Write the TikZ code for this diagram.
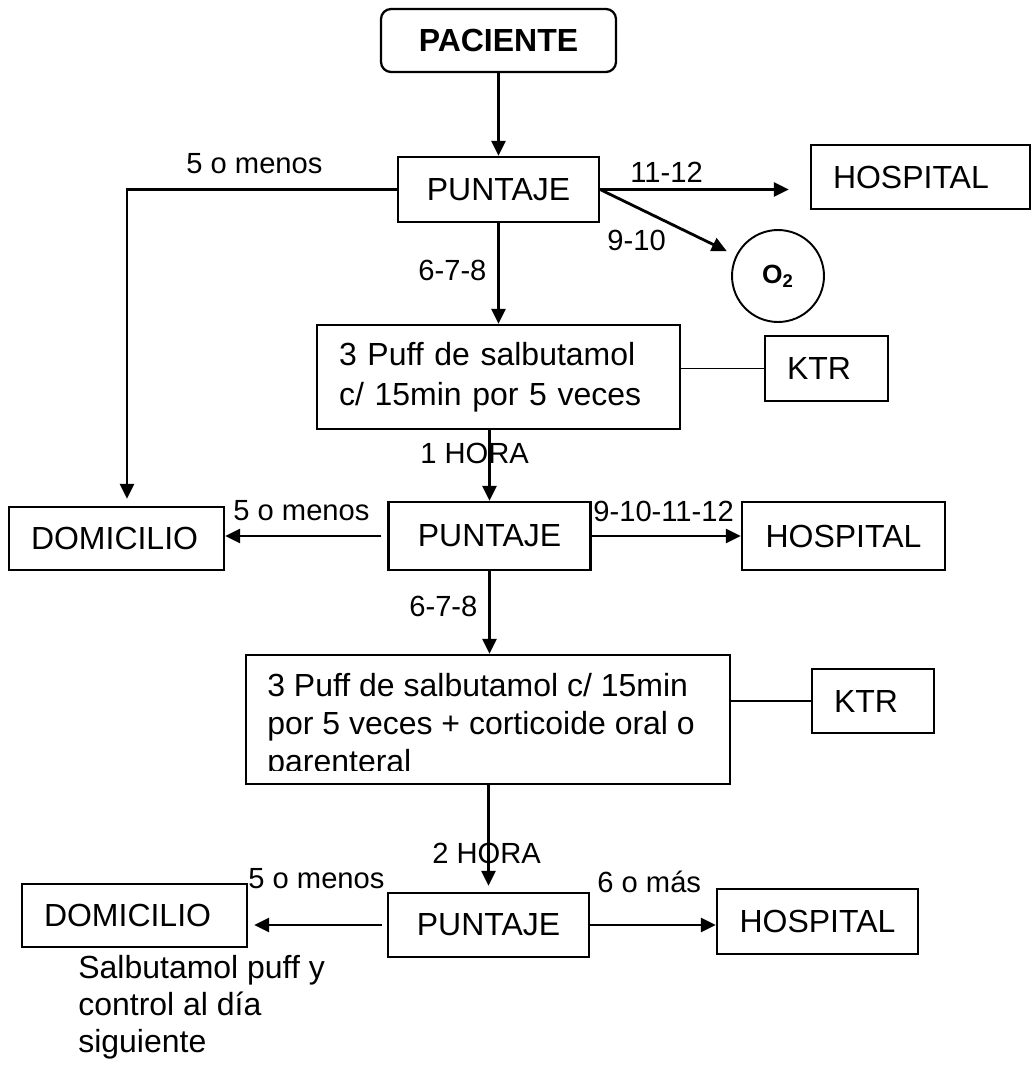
\documentclass[tikz,border=0pt]{standalone}
\usepackage{fontspec}
\setmainfont{Liberation Sans}
\usetikzlibrary{arrows.meta}
\newcommand{\txtcaja}{\fontsize{18.2pt}{22.8pt}\selectfont}
\newcommand{\txtflecha}{\fontsize{16.6pt}{20pt}\selectfont}

\begin{document}
\begin{tikzpicture}[
    x=0.02cm, y=-0.02cm,
    >={Triangle[length=0.3cm, width=0.28cm]},
    caja/.style={draw, line width=1.3pt, inner xsep=0.44cm, inner ysep=0pt, align=left, font=\txtcaja},
    cajac/.style={draw, line width=1.3pt, inner sep=0pt, font=\txtcaja, minimum height=1.3cm},
    flecha/.style={->, line width=1.6pt},
    linea/.style={line width=1.1pt},
    etiq/.style={anchor=base west, inner sep=0pt, font=\txtflecha},
]
\useasboundingbox (0,0) rectangle (1031,1065);

% === Primera evaluacion ===
\node[cajac, rounded corners=0.2cm, minimum width=4.7cm, minimum height=1.26cm, font=\txtcaja\bfseries] (paciente) at (498.5,40.5) {PACIENTE};
\node[cajac, minimum width=4.02cm] (punt1) at (498.5,189.5) {PUNTAJE};
\node[caja, text width=3.5cm, minimum height=1.28cm] (hosp1) at (920.5,177) {HOSPITAL};
\node[draw, circle, line width=1.1pt, minimum size=1.84cm, inner sep=0pt, font=\fontsize{15pt}{17pt}\selectfont\bfseries] (oxig) at (778,276) {O\textsubscript{2}};
\node[caja, text width=6.38cm, minimum height=2.08cm] (puff1) at (498.5,377) {3 Puff de salbutamol\\c/ 15min por 5 veces};
\node[caja, text width=1.58cm, minimum height=1.3cm] (ktr1) at (826.5,368.5) {KTR};

\draw[flecha] (paciente) -- (punt1);
\draw[flecha, shorten >=0.42cm] (punt1.east) -- (punt1.east -| hosp1.west);
\draw[flecha, shorten >=0.2cm] (punt1.east) -- (oxig);
\draw[flecha] (punt1) -- (puff1);
\draw[linea] (ktr1.west -| puff1.east) -- (ktr1.west);

\node[etiq] (menosA) at (186,173) {5 o menos};
\node[etiq] (pts1112) at (630,182) {11-12};
\node[etiq] (pts910) at (607,250) {9-10};
\node[etiq] (pts678A) at (418,280) {6-7-8};

% === Despues de 1 hora ===
\node[cajac, minimum width=4.04cm, minimum height=1.36cm] (punt2) at (489.5,536) {PUNTAJE};
\node[caja, text width=3.42cm, minimum height=1.26cm] (dom1) at (116.5,538.5) {DOMICILIO};
\node[cajac, minimum width=4.06cm, minimum height=1.36cm] (hosp2) at (843.5,536) {HOSPITAL};

\draw[flecha, shorten >=0.14cm] (punt1.west) -| ([xshift=0.21cm]dom1.north);
\draw[flecha] (puff1.south -| punt2.north) -- (punt2.north);
\draw[flecha, shorten <=0.12cm] (punt2.west) -- (punt2.west -| dom1.east);
\draw[flecha] (punt2) -- (hosp2);

\node[etiq] (hora1) at (420,463) {1 HORA};
\node[etiq] (menosB) at (233,520) {5 o menos};
\node[etiq] (pts912) at (593,521) {9-10-11-12};
\node[etiq] (pts678B) at (409,616) {6-7-8};

% === Segundo tratamiento ===
\node[draw, line width=1.3pt, minimum width=9.68cm, minimum height=2.58cm, inner sep=0pt] (puff2) at (488,719.5) {};
\begin{scope}
  \clip (puff2.north west) rectangle ([yshift=0.3cm]puff2.south east);
  \node[anchor=north west, inner sep=0pt, align=left, font=\fontsize{18.2pt}{21.5pt}\selectfont] (puff2txt) at (267,673)
    {3 Puff de salbutamol c/ 15min\\por 5 veces + corticoide oral o\\parenteral};
\end{scope}
\node[caja, text width=1.56cm, minimum height=1.28cm] (ktr2) at (873,701) {KTR};

\draw[flecha] (punt2.south) -- (punt2.south |- puff2.north);
\draw[linea] (ktr2.west -| puff2.east) -- (ktr2.west);

% === Despues de 2 horas ===
\node[cajac, minimum width=4.02cm, minimum height=1.28cm] (punt3) at (488.5,925) {PUNTAJE};
\node[caja, text width=3.62cm, minimum height=1.26cm] (dom2) at (134.5,915.5) {DOMICILIO};
\node[cajac, minimum width=4.02cm, minimum height=1.3cm] (hosp3) at (817.5,921.5) {HOSPITAL};

\draw[flecha, shorten >=0.12cm] (puff2.south -| punt3.north) -- (punt3.north);
\draw[flecha, shorten <=0.1cm, shorten >=0.12cm] (punt3.west) -- (punt3.west -| dom2.east);
\draw[flecha] (punt3.east) -- (punt3.east -| hosp3.west);

\node[etiq] (hora2) at (432,863) {2 HORA};
\node[etiq] (menosC) at (248,888) {5 o menos};
\node[etiq] (pts6mas) at (597,892) {6 o más};
\node[anchor=north west, inner sep=0pt, align=left, font=\fontsize{18.2pt}{21pt}\selectfont] (indicacion) at (78,955)
  {Salbutamol puff y\\control al día\\siguiente};

\end{tikzpicture}
\end{document}
